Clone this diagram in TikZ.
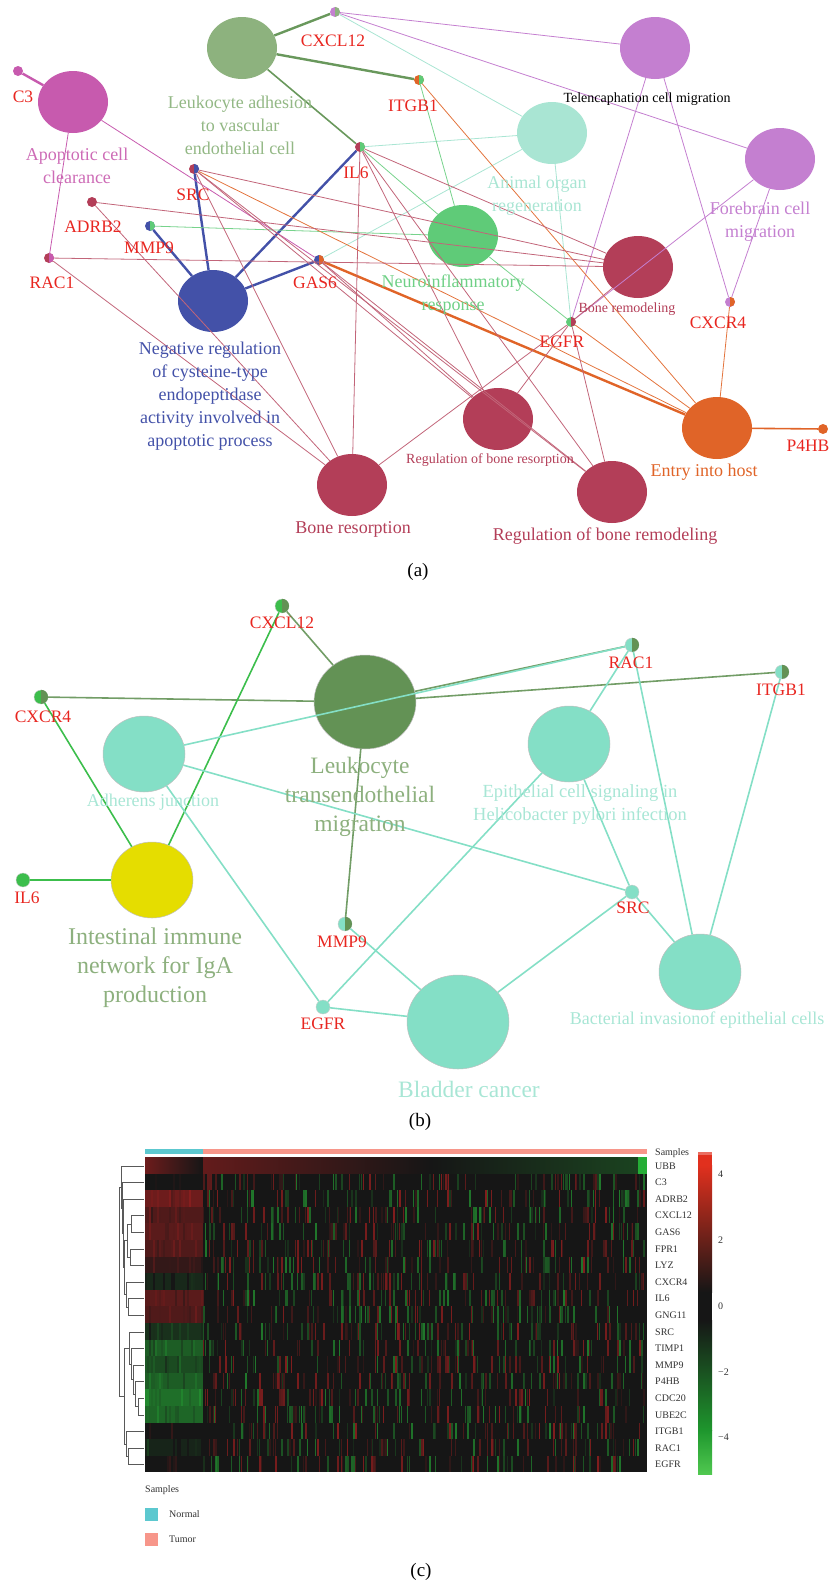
\documentclass[tikz,border=0pt]{standalone}
\usepackage{fontspec}
\setmainfont{Liberation Serif}
\usetikzlibrary{shapes.geometric}

\definecolor{genered}{RGB}{232,38,32}
\definecolor{lagreen}{RGB}{141,178,126}
\definecolor{lalbl}{RGB}{147,184,133}
\definecolor{edgegrn}{RGB}{105,152,92}
\definecolor{apomag}{RGB}{199,90,174}
\definecolor{telpur}{RGB}{196,127,208}
\definecolor{anitl}{RGB}{169,229,211}
\definecolor{neugrn}{RGB}{95,203,120}
\definecolor{bonered}{RGB}{179,62,88}
\definecolor{negblue}{RGB}{67,81,168}
\definecolor{entryor}{RGB}{224,100,40}
\definecolor{ltmgreen}{RGB}{99,146,85}
\definecolor{ltmlbl}{RGB}{141,176,126}
\definecolor{bteal}{RGB}{132,223,198}
\definecolor{btlbl}{RGB}{168,230,213}
\definecolor{igayel}{RGB}{229,221,0}
\definecolor{brgreen}{RGB}{60,190,76}
\definecolor{hmdark}{RGB}{22,22,22}
\definecolor{hmred}{RGB}{215,35,35}
\definecolor{hmgreen}{RGB}{40,200,60}
\definecolor{cbred}{RGB}{225,48,30}
\definecolor{cbgreen}{RGB}{80,200,80}
\definecolor{normteal}{RGB}{92,200,207}
\definecolor{tumsalm}{RGB}{247,150,138}
\definecolor{hmtext}{RGB}{50,50,50}

% right half of a gene dot in a second colour
\newcommand\halfdot[3]{\fill[#2] (#1.north) arc[start angle=-90, end angle=90, radius=#3] -- cycle;}
% one join of the row tree
\newcommand\dlink[5]{\draw[dend] (#3,#2) -| (#1,#4) -- (#5,#4);}

\begin{document}
\begin{tikzpicture}[x=1pt, y=-1pt,
	term/.style={ellipse, minimum width=70, minimum height=62, inner sep=0},
	bterm/.style={ellipse, minimum width=82, minimum height=76, inner sep=0, draw=black!25, line width=0.5pt},
	bigterm/.style={bterm, minimum width=102, minimum height=94},
	gene/.style={circle, minimum size=10, inner sep=0},
	bgene/.style={circle, minimum size=14, inner sep=0, draw=black!20, line width=0.4pt},
	glbl/.style={text=genered, inner sep=0, font=\fontsize{17.5}{20}\selectfont},
	tlbl/.style={align=center, inner sep=0, font=\fontsize{18}{23}\selectfont},
	slbl/.style={inner sep=0, font=\fontsize{14}{16}\selectfont},
	blbl/.style={align=center, inner sep=0, font=\fontsize{23.5}{29}\selectfont},
	hlbl/.style={anchor=west, inner sep=0, text=hmtext, font=\fontsize{10}{12}\selectfont},
	lnk/.style={line width=0.8pt},
	fatlnk/.style={line width=2.4pt},
	blnk/.style={line width=1.6pt},
	dend/.style={draw=black!65, line width=0.6pt}]
\useasboundingbox (0,0) rectangle (833,1582);

% ---------------- (a)
\node[term, fill=lagreen] (la) at (242,48) {};
\node[term, fill=apomag] (apo) at (73,102) {};
\node[term, fill=telpur] (tel) at (655,48) {};
\node[term, fill=anitl] (ani) at (552,133) {};
\node[term, fill=telpur] (fore) at (780,159) {};
\node[term, fill=neugrn] (neu) at (463,236) {};
\node[term, fill=bonered] (bremod) at (638,267) {};
\node[term, fill=negblue] (neg) at (213,301) {};
\node[term, fill=bonered] (bres) at (352,485) {};
\node[term, fill=bonered] (rbres) at (498,419) {};
\node[term, fill=bonered] (rbrem) at (612,492) {};
\node[term, fill=entryor] (entry) at (717,428) {};

\node[gene, fill=telpur] (cxcl12) at (335,12) {};
\node[gene, fill=apomag] (c3) at (18,71) {};
\node[gene, fill=entryor] (itgb1) at (419,80) {};
\node[gene, fill=bonered] (il6) at (360,147) {};
\node[gene, fill=bonered] (src) at (194,169) {};
\node[gene, fill=bonered] (adrb2) at (92,202) {};
\node[gene, fill=negblue] (mmp9) at (150,226) {};
\node[gene, fill=bonered] (rac1) at (49,258) {};
\node[gene, fill=negblue] (gas6) at (319,260) {};
\node[gene, fill=telpur] (cxcr4) at (730,302) {};
\node[gene, fill=neugrn] (egfr) at (571,322) {};
\node[gene, fill=entryor] (p4hb) at (823,429) {};
\halfdot{cxcl12}{lagreen}{5}
\halfdot{itgb1}{neugrn}{5}
\halfdot{il6}{neugrn}{5}
\halfdot{src}{negblue}{5}
\halfdot{mmp9}{neugrn}{5}
\halfdot{rac1}{apomag}{5}
\halfdot{gas6}{entryor}{5}
\halfdot{cxcr4}{entryor}{5}
\halfdot{egfr}{bonered}{5}

\draw[fatlnk, edgegrn] (la) -- (cxcl12);
\draw[fatlnk, edgegrn] (la) -- (itgb1);
\draw[blnk, edgegrn] (la) -- (il6);
\draw[fatlnk, apomag] (c3) -- (apo);
\draw[fatlnk, entryor] (gas6) -- (entry);
\draw[blnk, entryor] (p4hb) -- (entry);
\foreach \a in {src, mmp9, il6, gas6} \draw[fatlnk, negblue] (\a) -- (neg);
\foreach \a/\b in {apo/rac1, apo/gas6} \draw[lnk, apomag] (\a) -- (\b);
\foreach \a/\b in {cxcl12/tel, cxcl12/fore, egfr/tel, egfr/fore, cxcr4/tel, cxcr4/fore}
	\draw[lnk, telpur] (\a) -- (\b);
\foreach \a/\b in {cxcl12/ani, il6/ani, gas6/ani, egfr/ani} \draw[lnk, anitl] (\a) -- (\b);
\foreach \a/\b in {itgb1/neu, il6/neu, mmp9/neu, neu/egfr} \draw[lnk, neugrn!85] (\a) -- (\b);
\foreach \a/\b in {itgb1/entry, src/entry, egfr/entry, cxcr4/entry} \draw[lnk, entryor!90] (\a) -- (\b);
\foreach \a/\b in {il6/bremod, il6/bres, il6/rbres, il6/rbrem, src/bremod, src/bres, src/rbres, src/rbrem,
	adrb2/bremod, adrb2/bres, rac1/bremod, rac1/bres, gas6/rbres, gas6/rbrem,
	egfr/bremod, egfr/rbres, egfr/rbrem, egfr/bres}
	\draw[lnk, bonered!80] (\a) -- (\b);

\node[glbl] (cxcl12T) at (333,41) {CXCL12};
\node[glbl] (c3T) at (23,97) {C3};
\node[glbl] (itgb1T) at (413,106) {ITGB1};
\node[glbl] (il6T) at (356,173) {IL6};
\node[glbl] (srcT) at (193,195) {SRC};
\node[glbl] (adrb2T) at (93,227) {ADRB2};
\node[glbl] (mmp9T) at (149,248) {MMP9};
\node[glbl] (rac1T) at (52,283) {RAC1};
\node[glbl] (gas6T) at (315,283) {GAS6};
\node[glbl] (cxcr4T) at (718,323) {CXCR4};
\node[glbl] (egfrT) at (562,342) {EGFR};
\node[glbl] (p4hbT) at (808,446) {P4HB};

\node[tlbl, text=lalbl] (laT) at (240,125) {Leukocyte adhesion\\to vascular\\endothelial cell};
\node[tlbl, text=apomag!90] (apoT) at (77,166) {Apoptotic cell\\clearance};
\node[slbl] (telT) at (647,99) {Telencaphation cell migration};
\node[tlbl, text=anitl] (aniT) at (537,196) {Animal organ\\regeneration};
\node[tlbl, text=telpur] (foreT) at (760,222) {Forebrain cell\\migration};
\node[tlbl, text=neugrn!90] (neuT) at (453,295) {Neuroinflammatory\\response};
\node[slbl, text=bonered] (bremodT) at (627,309) {Bone remodeling};
\node[tlbl, text=negblue] (negT) at (210,396) {Negative regulation\\of cysteine-type\\endopeptidase\\activity involved in\\apoptotic process};
\node[tlbl, text=bonered] (bresT) at (353,529) {Bone resorption};
\node[slbl, text=bonered] (rbresT) at (490,460) {Regulation of bone resorption};
\node[tlbl, text=bonered] (rbremT) at (605,536) {Regulation of bone remodeling};
\node[tlbl, text=entryor] (entryT) at (704,472) {Entry into host};
\node[tlbl, font=\fontsize{19}{22}\selectfont] (capA) at (418,572) {(a)};

% ---------------- (b)
\node[bigterm, fill=ltmgreen] (ltm) at (365,702) {};
\node[bterm, fill=bteal] (adh) at (144,754) {};
\node[bterm, fill=igayel] (iga) at (152,880) {};
\node[bterm, fill=bteal] (epi) at (569,744) {};
\node[bigterm, fill=bteal] (blad) at (458,1022) {};
\node[bterm, fill=bteal] (bact) at (700,972) {};

\node[bgene, fill=brgreen] (cxcl12b) at (282,606) {};
\node[bgene, fill=brgreen] (cxcr4b) at (41,697) {};
\node[bgene, fill=brgreen] (il6b) at (23,880) {};
\node[bgene, fill=bteal] (rac1b) at (632,645) {};
\node[bgene, fill=bteal] (itgb1b) at (782,672) {};
\node[bgene, fill=bteal] (srcb) at (632,892) {};
\node[bgene, fill=bteal] (mmp9b) at (345,924) {};
\node[bgene, fill=bteal] (egfrb) at (323,1007) {};
\foreach \g in {cxcl12b, cxcr4b, rac1b, itgb1b, mmp9b} {\halfdot{\g}{ltmgreen}{7}}

\foreach \a/\b in {cxcl12b/ltm, cxcr4b/ltm, ltm/rac1b, ltm/itgb1b, ltm/mmp9b}
	\draw[blnk, ltmgreen!90] (\a) -- (\b);
\foreach \a/\b in {cxcl12b/iga, cxcr4b/iga, il6b/iga} \draw[blnk, brgreen] (\a) -- (\b);
\foreach \a/\b in {adh/rac1b, adh/srcb, adh/egfrb, epi/rac1b, epi/srcb, epi/egfrb,
	rac1b/bact, itgb1b/bact, srcb/bact, srcb/blad, mmp9b/blad, egfrb/blad}
	\draw[blnk, bteal] (\a) -- (\b);

\node[glbl] (cxcl12bT) at (282,623) {CXCL12};
\node[glbl] (cxcr4bT) at (43,717) {CXCR4};
\node[glbl] (il6bT) at (27,898) {IL6};
\node[glbl] (rac1bT) at (631,663) {RAC1};
\node[glbl] (itgb1bT) at (781,690) {ITGB1};
\node[glbl] (srcbT) at (633,908) {SRC};
\node[glbl] (mmp9bT) at (342,942) {MMP9};
\node[glbl] (egfrbT) at (323,1024) {EGFR};

\node[blbl, text=ltmlbl] (ltmT) at (360,797) {Leukocyte\\transendothelial\\migration};
\node[tlbl, text=btlbl] (adhT) at (153,802) {Adherens junction};
\node[blbl, text=ltmlbl, font=\fontsize{24}{29}\selectfont] (igaT) at (155,968) {Intestinal immune\\network for IgA\\production};
\node[tlbl, text=btlbl, font=\fontsize{18.5}{23}\selectfont] (epiT) at (580,805) {Epithelial cell signaling in\\Helicobacter pylori infection};
\node[blbl, text=btlbl] (bladT) at (469,1089) {Bladder cancer};
\node[tlbl, text=btlbl] (bactT) at (697,1020) {Bacterial invasionof epithelial cells};
\node[tlbl, font=\fontsize{19}{22}\selectfont] (capB) at (420,1122) {(b)};

% ---------------- (c)
\pgfmathsetseed{7}
\fill[normteal] (145,1149) rectangle (203,1154);
\fill[tumsalm] (203,1149) rectangle (647,1154);
\foreach \bias [count=\row from 0] in {35,0,45,30,35,30,15,-10,35,30,-15,-40,-30,-40,-50,-45,0,-8,0} {
	\pgfmathsetmacro\yt{1157+16.6*\row}
	\pgfmathtruncatemacro\pv{abs(\bias)}
	\pgfmathparse{\bias<0 ? "hmgreen" : "hmred"}\let\hc\pgfmathresult
	\fill[hmdark] (203,\yt) rectangle (647,\yt+16.6);
	\ifnum\row=0
		\shade[left color=hmred!45!hmdark, right color=hmdark] (145,\yt) rectangle (203,\yt+16.6);
		\shade[left color=hmred!40!hmdark, right color=hmdark] (203,\yt) rectangle (430,\yt+16.6);
		\shade[left color=hmdark, right color=hmgreen!25!hmdark] (430,\yt) rectangle (638,\yt+16.6);
		\fill[hmgreen!85!hmdark] (638,\yt) rectangle (647,\yt+16.6);
	\else
		\fill[fill={\hc!\pv!hmdark}] (145,\yt) rectangle (203,\yt+16.6);
		\foreach \k in {1,...,9} {
			\pgfmathtruncatemacro\hmx{145+2*random(0,28)}
			\pgfmathtruncatemacro\hmp{max(0,\pv+random(0,30)-15)}
			\fill[fill={\hc!\hmp!hmdark}] (\hmx,\yt) rectangle ++(2,16.6);
		}
		\foreach \k in {1,...,80} {
			\pgfmathtruncatemacro\hmx{203+2*random(0,220)}
			\pgfmathtruncatemacro\hmp{random(10,55)}
			\pgfmathtruncatemacro\hmw{random(1,2)}
			\pgfmathparse{rnd<0.5 ? "hmgreen" : "hmred"}\let\hmc\pgfmathresult
			\fill[fill={\hmc!\hmp!hmdark}] (\hmx,\yt) rectangle ++(\hmw,16.6);
		}
	\fi
}
\foreach \g [count=\i from 0] in {UBB,C3,ADRB2,CXCL12,GAS6,FPR1,LYZ,CXCR4,IL6,GNG11,SRC,TIMP1,MMP9,P4HB,CDC20,UBE2C,ITGB1,RAC1,EGFR}
	\node[hlbl] (hm\g) at (655,1165.8+16.6*\i) {\g};
\node[hlbl] (hmSamples) at (655,1153) {Samples};

% row tree
\dlink{131}{1215.6}{144}{1232.2}{144}
\dlink{130}{1248.8}{144}{1265.4}{144}
\dlink{127}{1223.9}{131}{1257.1}{130}
\dlink{128}{1298.6}{144}{1315.2}{144}
\dlink{126}{1282.0}{144}{1306.9}{128}
\dlink{124}{1240.5}{127}{1294.45}{126}
\dlink{123}{1199.0}{144}{1267.5}{124}
\dlink{122}{1182.4}{144}{1233.25}{123}
\dlink{121}{1165.8}{144}{1207.8}{122}
\dlink{138}{1398.2}{144}{1414.8}{144}
\dlink{135}{1381.6}{144}{1406.5}{138}
\dlink{133}{1365.0}{144}{1394.05}{135}
\dlink{131}{1348.4}{144}{1379.5}{133}
\dlink{129}{1331.8}{144}{1364.0}{131}
\dlink{128}{1448.0}{144}{1464.6}{144}
\dlink{126}{1431.4}{144}{1456.3}{128}
\dlink{124}{1347.9}{129}{1443.85}{126}
\dlink{119}{1186.8}{121}{1395.9}{124}

% colour key
\fill[cbred!70!white] (698,1152) rectangle (712,1155);
\fill[cbred] (698,1155) rectangle (712,1165);
\shade[top color=cbred, bottom color=hmdark] (698,1165) rectangle (712,1292);
\fill[hmdark] (698,1292) rectangle (712,1320);
\shade[top color=hmdark, bottom color=hmgreen!75!black] (698,1320) rectangle (712,1430);
\shade[top color=hmgreen!75!black, bottom color=cbgreen] (698,1430) rectangle (712,1474);
\foreach \t/\ty in {4/1174, 2/1240, 0/1306, −2/1372, −4/1437}
	\node[hlbl] (key\ty) at (718,\ty) {\t};

\node[hlbl] (legT) at (145,1490) {Samples};
\fill[normteal] (145,1508) rectangle (158,1521);
\fill[tumsalm] (145,1533) rectangle (158,1546);
\node[hlbl] (legN) at (169,1514) {Normal};
\node[hlbl] (legU) at (169,1539) {Tumor};
\node[tlbl, font=\fontsize{19}{22}\selectfont] (capC) at (421,1572) {(c)};
\end{tikzpicture}
\end{document}
